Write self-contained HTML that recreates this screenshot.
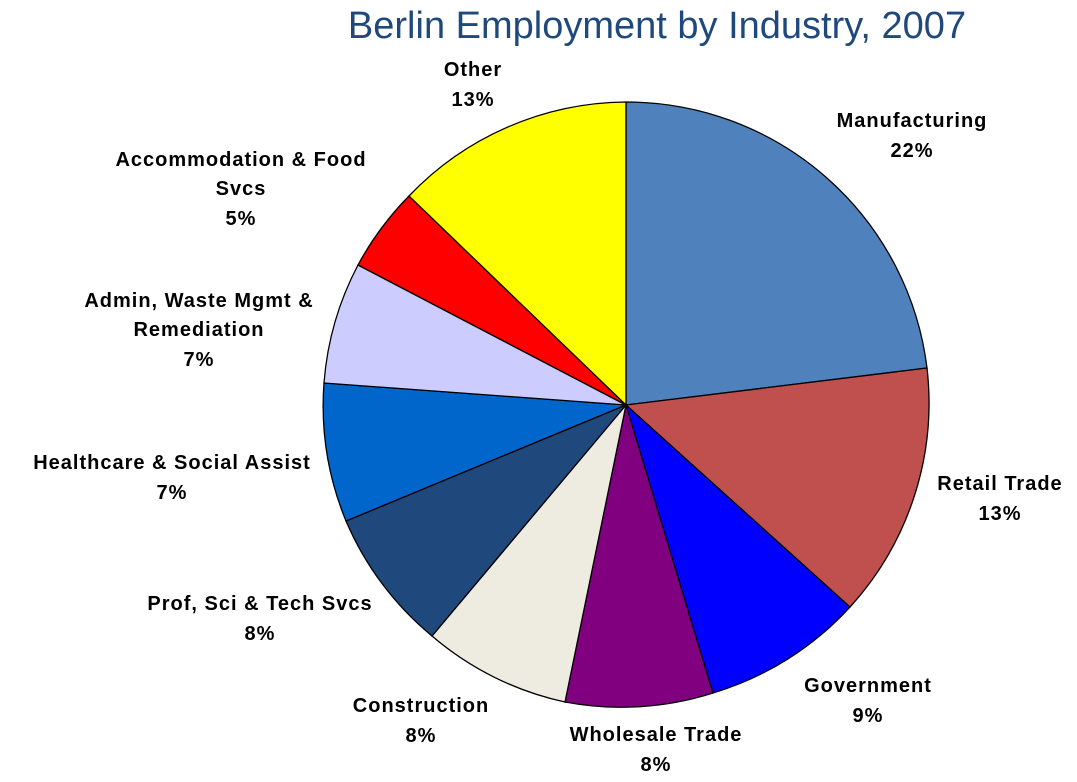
<!DOCTYPE html>
<html><head><meta charset="utf-8"><style>
body{margin:0;background:#fff;}
svg{display:block;}
text{font-family:"Liberation Sans",Arial,sans-serif;font-weight:bold;font-size:20px;letter-spacing:1px;fill:#000;text-anchor:middle;}
.t{font-weight:normal;font-size:38px;letter-spacing:0;fill:#1f497d;}
</style></head><body>
<svg width="1077" height="782" viewBox="0 0 1077 782">
<rect width="1077" height="782" fill="#fff"/>
<text class="t" x="657" y="38">Berlin Employment by Industry, 2007</text>
<g stroke="#000" stroke-width="1.3">
<path d="M626,405 L626,102 A303,303 0 0 1 927,368 Z" fill="#4f81bd"/>
<path d="M626,405 L927,368 A303,303 0 0 1 850,607 Z" fill="#c0504d"/>
<path d="M626,405 L850,607 A303,303 0 0 1 713,693 Z" fill="#0000ff"/>
<path d="M626,405 L713,693 A303,303 0 0 1 565,702 Z" fill="#800080"/>
<path d="M626,405 L565,702 A303,303 0 0 1 432,636 Z" fill="#eeece1"/>
<path d="M626,405 L432,636 A303,303 0 0 1 346,521 Z" fill="#1f497d"/>
<path d="M626,405 L346,521 A303,303 0 0 1 324,383 Z" fill="#0066cc"/>
<path d="M626,405 L324,383 A303,303 0 0 1 358,265 Z" fill="#ccccff"/>
<path d="M626,405 L358,265 A303,303 0 0 1 409,196 Z" fill="#ff0000"/>
<path d="M626,405 L409,196 A303,303 0 0 1 626,102 Z" fill="#ffff00"/>
</g>
<text x="912" y="127">Manufacturing</text><text x="912" y="157">22%</text>
<text x="1000" y="490">Retail Trade</text><text x="1000" y="520">13%</text>
<text x="868" y="692">Government</text><text x="868" y="722">9%</text>
<text x="656" y="741">Wholesale Trade</text><text x="656" y="771">8%</text>
<text x="421" y="712">Construction</text><text x="421" y="742">8%</text>
<text x="260" y="610">Prof, Sci &amp; Tech Svcs</text><text x="260" y="640">8%</text>
<text x="172" y="469">Healthcare &amp; Social Assist</text><text x="172" y="499">7%</text>
<text x="199" y="307">Admin, Waste Mgmt &amp;</text><text x="199" y="336">Remediation</text><text x="199" y="366">7%</text>
<text x="241" y="166">Accommodation &amp; Food</text><text x="241" y="195">Svcs</text><text x="241" y="225">5%</text>
<text x="473" y="76">Other</text><text x="473" y="106">13%</text>
</svg>
</body></html>
